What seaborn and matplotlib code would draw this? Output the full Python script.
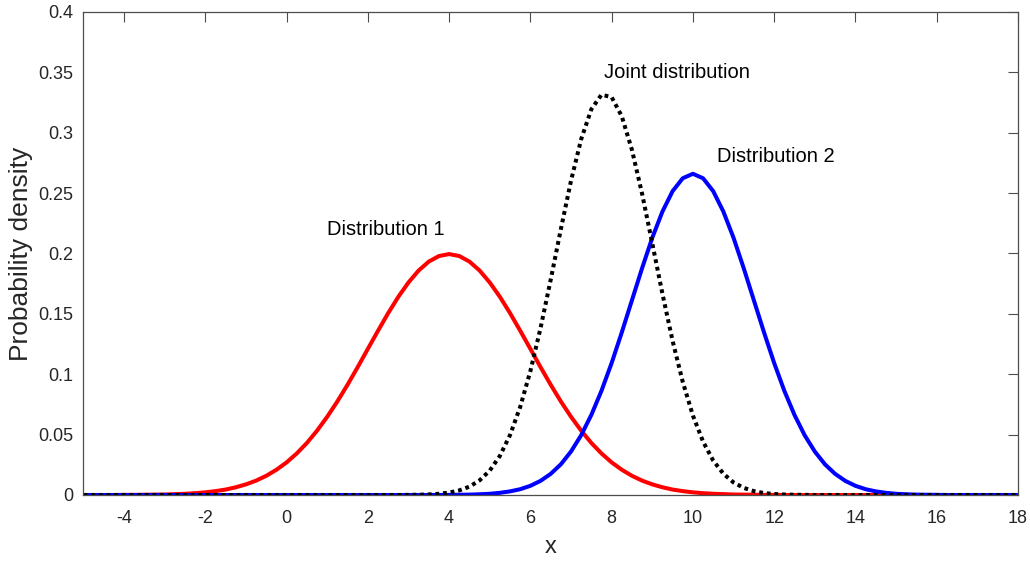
import numpy as np
import pandas as pd
import matplotlib
matplotlib.use("Agg")
import matplotlib.pyplot as plt
import seaborn as sns

# sample grid (step 0.25 from -5 to 18)
x_vals = np.arange(-5, 18.001, 0.25)

# densities
dist1 = ([0.0] * 4 +
         [0.0001, 0.0001, 0.0002, 0.0003, 0.0004, 0.0007, 0.0010, 0.0015, 0.0022,
          0.0032, 0.0045, 0.0064, 0.0088, 0.0119, 0.0159, 0.0209, 0.0270, 0.0344,
          0.0431, 0.0533, 0.0648, 0.0775, 0.0913, 0.1059, 0.1210, 0.1360, 0.1506,
          0.1641, 0.1760, 0.1859, 0.1933, 0.1979, 0.1995,
          0.1979, 0.1933, 0.1859, 0.1760, 0.1641, 0.1506, 0.1360, 0.1210, 0.1059,
          0.0913, 0.0775, 0.0648, 0.0533, 0.0431, 0.0344, 0.0270, 0.0209, 0.0159,
          0.0119, 0.0088, 0.0064, 0.0045, 0.0032, 0.0022, 0.0015, 0.0010, 0.0007,
          0.0004, 0.0003, 0.0002, 0.0001, 0.0001] +
         [0.0] * 24)

dist2 = ([0.0] * 36 +
         [0.0001, 0.0002, 0.0003, 0.0006, 0.0010, 0.0018, 0.0030, 0.0048, 0.0076,
          0.0117, 0.0175, 0.0254, 0.0360, 0.0495, 0.0663, 0.0863, 0.1093, 0.1347,
          0.1613, 0.1879, 0.2130, 0.2347, 0.2516, 0.2623, 0.2660,
          0.2623, 0.2516, 0.2347, 0.2130, 0.1879, 0.1613, 0.1347, 0.1093, 0.0863,
          0.0663, 0.0495, 0.0360, 0.0254, 0.0175, 0.0117, 0.0076, 0.0048, 0.0030,
          0.0018, 0.0010, 0.0006, 0.0003, 0.0002, 0.0001] +
         [0.0] * 8)

joint = ([0.0] * 32 +
         [0.0001, 0.0002, 0.0005, 0.0010, 0.0020, 0.0038, 0.0069, 0.0121, 0.0202,
          0.0324, 0.0497, 0.0730, 0.1026, 0.1382, 0.1782, 0.2201, 0.2602, 0.2946,
          0.3194, 0.3315, 0.3295, 0.3136, 0.2858, 0.2494, 0.2084, 0.1667, 0.1277,
          0.0937, 0.0658, 0.0442, 0.0285, 0.0176, 0.0104, 0.0059, 0.0032, 0.0016,
          0.0008, 0.0004, 0.0002, 0.0001] +
         [0.0] * 21)

labels = ["Distribution 1", "Distribution 2", "Joint distribution"]
label_pos = [(1.0, 0.22), (10.6, 0.28), (7.8, 0.35)]

x_ticks = [-4, -2, 0, 2, 4, 6, 8, 10, 12, 14, 16, 18]
y_ticks = [0, 0.05, 0.1, 0.15, 0.2, 0.25, 0.3, 0.35, 0.4]
y_ticklabels = ["0", "0.05", "0.1", "0.15", "0.2", "0.25", "0.3", "0.35", "0.4"]

df = pd.DataFrame({"x": x_vals, "d1": dist1, "d2": dist2, "joint": joint})

sns.set_style("white")
plt.rcParams['font.family'] = ['Liberation Sans', 'DejaVu Sans']
plt.rcParams['axes.unicode_minus'] = False

fig = plt.figure(figsize=(10.3, 5.65), dpi=100)
ax = fig.add_axes([0.081, 0.1239, 0.9073, 0.8549])

sns.lineplot(data=df, x="x", y="d1", color="#ff0000", lw=2.9, ax=ax)
sns.lineplot(data=df, x="x", y="d2", color="#0000ff", lw=2.9, ax=ax)
sns.lineplot(data=df, x="x", y="joint", color="black", lw=2.9,
             linestyle=(0, (0.95, 0.95)), ax=ax)

for txt, (tx, ty) in zip(labels, label_pos):
    ax.text(tx, ty, txt, fontsize=14.5, ha="left", va="center", color="black")

ax.set_xlim(-5, 18)
ax.set_ylim(0, 0.4)
ax.set_xticks(x_ticks)
ax.set_yticks(y_ticks)
ax.set_yticklabels(y_ticklabels)

ax.tick_params(direction="in", length=7, width=0.8, colors="#4d4d4d",
               labelcolor="#262626", labelsize=13, top=True, right=True,
               pad=7)
ax.tick_params(axis="x", pad=11)
for sp in ax.spines.values():
    sp.set_color("#4d4d4d")
    sp.set_linewidth(0.9)

ax.set_xlabel("x", fontsize=17, color="#262626", labelpad=6)
ax.set_ylabel("Probability density", fontsize=19, color="#262626", labelpad=4)

fig.savefig("out.png", dpi=100)
